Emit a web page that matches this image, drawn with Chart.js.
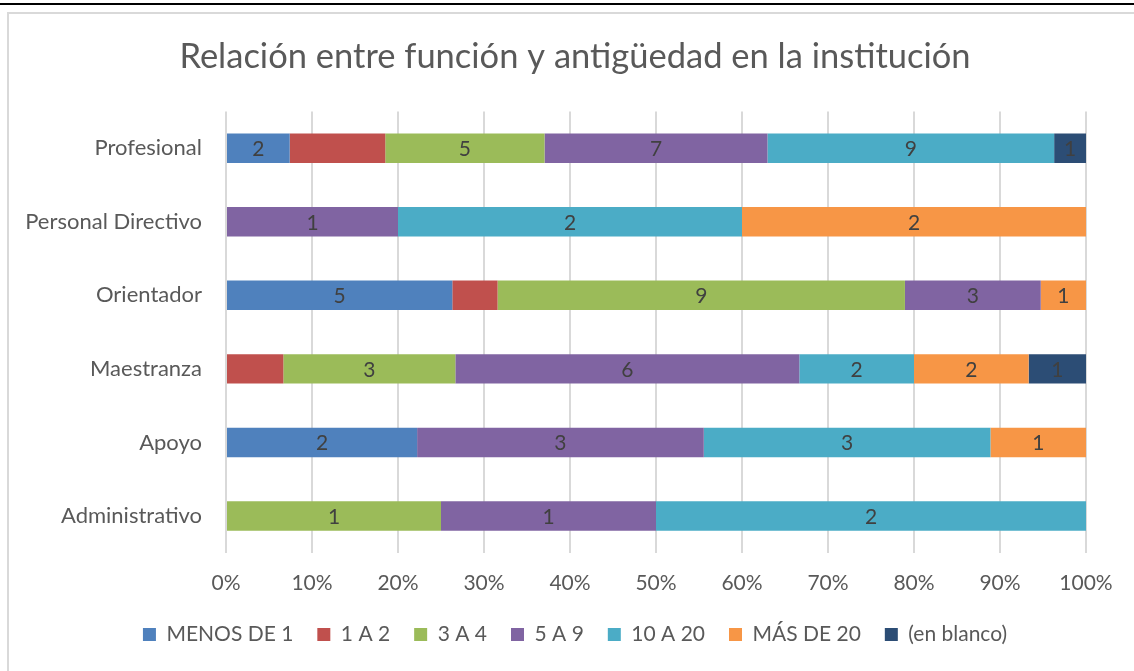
<!DOCTYPE html>
<html>
<head>
<meta charset="utf-8">
<script src="https://cdn.jsdelivr.net/npm/chart.js"></script>
<style>
  body { margin: 0; background: #ffffff; width: 1134px; height: 671px; overflow: hidden; position: relative; }
  .topline { position: absolute; left: 0; top: 3px; width: 1134px; height: 2px; background: #000000; }
  .frame { position: absolute; left: 7px; top: 12px; width: 1140px; height: 680px; border-left: 2px solid #d9d9d9; border-top: 2px solid #d9d9d9; }
  #wrap { position: absolute; left: 16px; top: 0; width: 1118px; height: 671px; }
</style>
</head>
<body>
<div class="topline"></div>
<div class="frame"></div>
<div id="wrap"><canvas id="antiguedad"></canvas></div>
<script>
const categories = ['Profesional', 'Personal Directivo', 'Orientador', 'Maestranza', 'Apoyo', 'Administrativo'];

// counts per seniority band, same order as categories
const menosDe1 = [2, 0, 5, 0, 2, 0];
const unoA2 = [3, 0, 1, 1, 0, 0];
const tresA4 = [5, 0, 9, 3, 0, 1];
const cincoA9 = [7, 1, 3, 6, 3, 1];
const diezA20 = [9, 2, 0, 2, 3, 2];
const masDe20 = [0, 2, 1, 2, 1, 0];
const enBlanco = [1, 0, 0, 1, 0, 0];

const percentTicks = [0, 10, 20, 30, 40, 50, 60, 70, 80, 90, 100];

const allSeries = [menosDe1, unoA2, tresA4, cincoA9, diezA20, masDe20, enBlanco];
const totals = categories.map((c, i) => allSeries.reduce((s, arr) => s + arr[i], 0));
const toPct = arr => arr.map((v, i) => v / totals[i] * 100);

const FONT = 'Lato, "Open Sans", sans-serif';
Chart.defaults.color = '#595959';
Chart.defaults.font.family = FONT;

// draws the count in the middle of each segment
const segmentLabels = {
  id: 'segmentLabels',
  afterDatasetsDraw(chart) {
    const ctx = chart.ctx;
    ctx.save();
    ctx.font = '21px ' + FONT;
    ctx.fillStyle = '#404040';
    ctx.textAlign = 'center';
    ctx.textBaseline = 'middle';
    chart.data.datasets.forEach((ds, di) => {
      if (ds.hideLabels) return;
      const meta = chart.getDatasetMeta(di);
      meta.data.forEach((bar, i) => {
        const n = ds.counts[i];
        if (!n) return;
        const p = bar.getProps(['x', 'y', 'base'], true);
        ctx.fillText(String(n), (p.x + p.base) / 2, p.y + 1);
      });
    });
    ctx.restore();
  }
};

function band(label, counts, color, hideLabels) {
  return {
    label: label,
    data: toPct(counts),
    counts: counts,
    hideLabels: hideLabels,
    backgroundColor: color,
    borderWidth: 0,
    categoryPercentage: 0.4,
    barPercentage: 1
  };
}

new Chart(document.getElementById('antiguedad'), {
  type: 'bar',
  data: {
    labels: categories,
    datasets: [
      band('MENOS DE 1', menosDe1, '#4F81BD'),
      band('1 A 2', unoA2, '#C0504D', true),
      band('3 A 4', tresA4, '#9BBB59'),
      band('5 A 9', cincoA9, '#8064A2'),
      band('10 A 20', diezA20, '#4BACC6'),
      band('MÁS DE 20', masDe20, '#F79646'),
      band('(en blanco)', enBlanco, '#2C4D75')
    ]
  },
  options: {
    indexAxis: 'y',
    responsive: true,
    maintainAspectRatio: false,
    animation: false,
    layout: { padding: { left: 0, right: 0, top: 0, bottom: 16 } },
    plugins: {
      title: {
        display: true,
        text: 'Relación entre función y antigüedad en la institución',
        font: { size: 34.5, weight: 'normal' },
        color: '#595959',
        padding: { top: 36, bottom: 34 }
      },
      legend: {
        position: 'bottom',
        labels: {
          boxWidth: 13,
          boxHeight: 13,
          padding: 24,
          font: { size: 21 },
          color: '#595959'
        }
      },
      tooltip: { enabled: false }
    },
    scales: {
      x: {
        stacked: true,
        min: 0,
        max: 100,
        afterBuildTicks: scale => { scale.ticks = percentTicks.map(v => ({ value: v })); },
        afterFit: scale => { scale.height -= 14; },
        ticks: {
          callback: v => v + '%',
          padding: 18,
          font: { size: 21 },
          color: '#595959'
        },
        grid: { color: '#d9d9d9', lineWidth: 2, drawTicks: false },
        border: { display: false }
      },
      y: {
        stacked: true,
        afterFit: scale => { scale.width = 210; },
        ticks: {
          padding: 24,
          font: { size: 22 },
          color: '#595959'
        },
        grid: { display: false, drawTicks: false },
        border: { display: false }
      },
      // empty right-hand axis that only reserves the right margin
      yRight: {
        type: 'category',
        position: 'right',
        labels: categories,
        afterFit: scale => { scale.width = 48; },
        ticks: { display: false },
        grid: { display: false, drawTicks: false },
        border: { display: false }
      }
    }
  },
  plugins: [segmentLabels]
});
</script>
</body>
</html>
